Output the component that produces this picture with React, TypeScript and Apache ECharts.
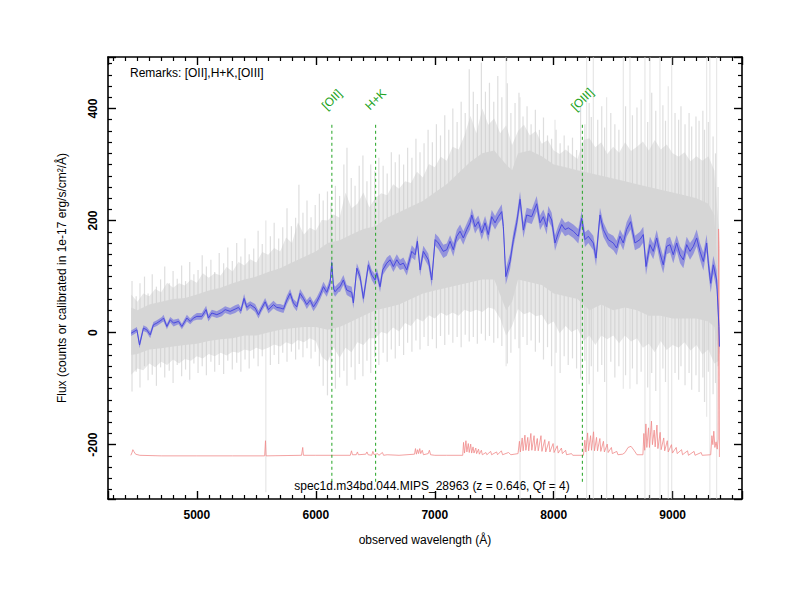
import React, { useEffect, useRef } from "react";
import * as echarts from "echarts";

const FONT = "'Liberation Sans', Helvetica, Arial, sans-serif";

const xMin = 4253;
const xMax = 9583;
const yMin = -297;
const yMax = 492;

const xAxisTitle = "observed wavelength (Å)";
const yAxisTitle = "Flux (counts or calibrated in 1e-17 erg/s/cm²/Å)";
const remarks = "Remarks: [OII],H+K,[OIII]";
const specTitle = "spec1d.m34bd.044.MIPS_28963 (z = 0.646, Qf = 4)";

// emission / absorption line markers
const lineNames = ["[OII]", "H+K", "[OIII]"];
const lineWaves = [6135, 6503, 8241];
const lineTop = 371;
const lineBottom = -269;
const lineLabelY = 416;

// smoothed spectrum: [wavelength, flux, error]
const blueSpectrum = [
  [4448, -1, 5], [4496, 5, 5], [4518, -22, 6], [4551, 8, 5], [4579, 5, 5], [4608, -4, 6], [4635, 14, 5],
  [4664, 17, 5], [4706, 23, 5], [4720, 26, 6], [4748, 11, 5], [4776, 23, 5], [4804, 17, 6], [4846, 20, 5],
  [4874, 11, 5], [4916, 26, 6], [4944, 20, 5], [4972, 26, 5], [5000, 29, 6], [5042, 29, 6], [5078, 41, 7],
  [5097, 26, 6], [5126, 35, 6], [5168, 32, 6], [5210, 36, 7], [5238, 41, 6], [5280, 38, 6], [5322, 42, 7],
  [5350, 45, 6], [5370, 39, 6], [5397, 61, 8], [5420, 45, 7], [5448, 50, 6], [5490, 44, 7], [5518, 32, 7],
  [5546, 44, 6], [5574, 55, 7], [5602, 41, 7], [5644, 50, 7], [5672, 45, 6], [5700, 44, 7], [5728, 42, 7],
  [5756, 58, 8], [5784, 70, 8], [5812, 53, 7], [5840, 46, 8], [5868, 70, 8], [5896, 61, 7], [5924, 50, 8],
  [5952, 58, 7], [5980, 46, 8], [6008, 55, 8], [6036, 67, 8], [6064, 82, 9], [6092, 72, 8], [6120, 88, 9],
  [6134, 125, 10], [6150, 78, 9], [6162, 73, 9], [6190, 80, 8], [6204, 82, 9], [6232, 94, 9], [6260, 76, 9],
  [6302, 72, 10], [6316, 53, 10], [6345, 115, 9], [6372, 100, 9], [6400, 61, 10], [6442, 121, 9],
  [6470, 103, 9], [6498, 94, 10], [6513, 106, 9], [6540, 82, 10], [6563, 112, 9], [6597, 124, 10],
  [6624, 130, 9], [6652, 118, 10], [6681, 130, 10], [6708, 121, 9], [6736, 124, 10], [6765, 112, 10],
  [6807, 145, 11], [6835, 139, 10], [6854, 163, 11], [6877, 112, 11], [6904, 145, 10], [6946, 130, 11],
  [6975, 94, 12], [7003, 166, 11], [7030, 160, 11], [7072, 145, 12], [7101, 148, 11], [7129, 163, 11],
  [7156, 148, 12], [7185, 172, 11], [7213, 181, 12], [7240, 169, 12], [7269, 184, 11], [7297, 196, 12],
  [7311, 210, 12], [7339, 189, 12], [7366, 198, 11], [7395, 178, 12], [7423, 196, 12], [7450, 175, 13],
  [7479, 207, 12], [7507, 196, 12], [7534, 207, 12], [7563, 216, 13], [7577, 189, 13], [7597, 100, 14],
  [7633, 127, 14], [7661, 166, 13], [7689, 196, 13], [7717, 238, 14], [7745, 183, 14], [7773, 210, 13],
  [7815, 207, 13], [7857, 230, 14], [7885, 196, 13], [7913, 207, 13], [7941, 189, 14], [7955, 213, 13],
  [7983, 201, 13], [8011, 160, 14], [8039, 178, 13], [8067, 193, 12], [8095, 184, 12], [8123, 187, 12],
  [8165, 181, 12], [8207, 172, 13], [8235, 204, 13], [8263, 166, 13], [8291, 172, 12], [8333, 160, 13],
  [8356, 133, 14], [8389, 210, 13], [8417, 184, 13], [8459, 166, 12], [8501, 160, 13], [8529, 151, 13],
  [8557, 172, 12], [8585, 160, 13], [8613, 184, 13], [8647, 198, 14], [8683, 160, 13], [8725, 166, 14],
  [8753, 175, 14], [8776, 118, 15], [8809, 157, 14], [8837, 145, 14], [8866, 169, 14], [8893, 142, 15],
  [8921, 121, 15], [8950, 154, 14], [8978, 157, 14], [9005, 139, 15], [9034, 160, 14], [9062, 139, 15],
  [9090, 130, 15], [9118, 157, 14], [9146, 145, 15], [9174, 154, 14], [9202, 169, 15], [9230, 145, 15],
  [9258, 127, 16], [9286, 160, 15], [9300, 124, 16], [9320, 88, 17], [9342, 121, 16], [9370, 94, 17],
  [9389, 11, 18], [9393, -25, 18],
];

// individual exposures: half-dense envelope [wavelength, low, high]
const greyMid = [
  [4448, -75, 68], [4500, -64, 55], [4550, -67, 70], [4600, -55, 65], [4650, -62, 78], [4700, -52, 72],
  [4750, -58, 89], [4800, -48, 80], [4850, -55, 88], [4900, -47, 84], [4950, -50, 95], [5000, -42, 89],
  [5050, -46, 106], [5100, -38, 98], [5150, -42, 106], [5200, -36, 102], [5250, -41, 117], [5300, -34, 109],
  [5350, -36, 126], [5400, -30, 120], [5450, -33, 131], [5500, -27, 125], [5550, -31, 144], [5600, -27, 139],
  [5650, -21, 151], [5700, -25, 145], [5750, -17, 170], [5800, -21, 160], [5850, -13, 197], [5900, -17, 175],
  [5950, -10, 187], [6000, -15, 182], [6050, -43, 201], [6100, -52, 200], [6150, -26, 211], [6200, -45, 205],
  [6250, -27, 250], [6300, -35, 222], [6350, -17, 230], [6400, -22, 250], [6450, -10, 224], [6500, -10, 240],
  [6550, 1, 249], [6600, -2, 245], [6650, 9, 265], [6700, 2, 257], [6750, 17, 270], [6800, 12, 267],
  [6850, 25, 287], [6900, 20, 277], [6950, 31, 301], [7000, 25, 295], [7050, 36, 314], [7100, 30, 307],
  [7150, 36, 332], [7200, 30, 327], [7250, 41, 352], [7300, 37, 387], [7350, 41, 356], [7400, 37, 400],
  [7450, 45, 371], [7500, 42, 382], [7550, 25, 356], [7600, -5, 370], [7650, 12, 335], [7700, 42, 360],
  [7750, 33, 371], [7800, 37, 352], [7850, 29, 360], [7900, 32, 337], [7950, 14, 344], [8000, 20, 325],
  [8050, -1, 319], [8100, 12, 327], [8150, 1, 318], [8200, 7, 310], [8250, -15, 344], [8300, -5, 347],
  [8350, -22, 331], [8400, -5, 340], [8450, -12, 319], [8500, -5, 332], [8550, -19, 321], [8600, -5, 340],
  [8650, -16, 324], [8700, -10, 332], [8750, -27, 341], [8800, -20, 325], [8850, -35, 344], [8900, -15, 327],
  [8950, -31, 336], [9000, -22, 320], [9050, -27, 314], [9100, -17, 322], [9150, -32, 306], [9200, -22, 315],
  [9250, -39, 307], [9300, -30, 315], [9350, -55, 290], [9390, -50, 180],
];

// individual exposures: dense core [wavelength, low, high]
const greyCore = [
  [4448, -40, 45], [4500, -38, 40], [4600, -30, 50], [4700, -28, 55], [4800, -25, 60], [4900, -22, 62],
  [5000, -20, 68], [5100, -15, 75], [5200, -12, 80], [5300, -10, 88], [5400, -5, 95], [5500, -5, 100],
  [5600, 0, 108], [5700, 5, 115], [5800, 8, 125], [5900, 10, 135], [6000, 10, 145], [6100, 5, 160],
  [6200, 10, 165], [6300, 20, 175], [6400, 30, 185], [6500, 40, 190], [6600, 45, 205], [6700, 50, 215],
  [6800, 60, 225], [6900, 70, 235], [7000, 75, 250], [7100, 80, 265], [7200, 85, 285], [7300, 90, 305],
  [7400, 95, 320], [7500, 95, 325], [7600, 40, 300], [7650, 55, 290], [7700, 95, 320], [7800, 90, 325],
  [7900, 85, 315], [8000, 70, 300], [8100, 65, 295], [8200, 60, 290], [8300, 40, 285], [8400, 50, 280],
  [8500, 40, 275], [8600, 45, 270], [8700, 40, 265], [8800, 30, 260], [8900, 30, 255], [9000, 25, 250],
  [9100, 25, 245], [9200, 25, 240], [9300, 20, 230], [9350, 10, 210], [9390, -40, 60],
];

// individual-exposure noise spikes [wavelength, low, high]
const greySpikes = [
  [4455, -105, 92], [4490, -70, 65], [4522, -98, 88], [4560, -60, 100], [4590, -85, 70], [4625, -75, 104],
  [4660, -95, 82], [4695, -62, 95], [4730, -80, 118], [4768, -68, 88], [4800, -90, 110], [4835, -58, 96],
  [4872, -78, 120], [4905, -66, 92], [4940, -84, 126], [4975, -55, 104], [5010, -72, 112], [5045, -60, 138],
  [5080, -76, 118], [5118, -52, 130], [5150, -70, 108], [5188, -58, 142], [5225, -74, 124], [5260, -50, 152],
  [5298, -66, 128], [5335, -54, 160], [5370, -70, 136], [5405, -48, 168], [5440, -64, 140], [5478, -46, 150],
  [5515, -60, 182], [5550, -42, 158], [5618, -58, 172], [5650, -40, 196], [5688, -56, 168], [5722, -36, 188],
  [5758, -52, 222], [5795, -34, 190], [5830, -48, 205], [5858, -30, 264], [5892, -44, 214], [5926, -28, 236],
  [5960, -46, 206], [5995, -34, 228], [6030, -60, 248], [6062, -95, 236], [6098, -112, 252], [6128, -70, 232],
  [6165, -100, 262], [6200, -80, 244], [6236, -68, 300], [6262, -95, 330], [6298, -62, 276], [6330, -84, 262],
  [6365, -56, 298], [6396, -78, 316], [6430, -50, 270], [6462, -72, 300], [6496, -44, 288], [6530, -58, 312],
  [6566, -36, 298], [6600, -52, 284], [6635, -30, 322], [6668, -46, 304], [6702, -24, 318], [6738, -40, 300],
  [6772, -18, 330], [6808, -34, 312], [6842, -14, 346], [6876, -30, 322], [6910, -8, 338], [6944, -24, 362],
  [6980, -12, 340], [7014, -28, 372], [7048, -6, 352], [7084, -22, 388], [7118, -4, 362], [7152, -18, 400],
  [7188, -8, 376], [7222, -26, 412], [7256, -4, 392], [7290, -16, 470], [7324, -8, 430], [7358, -20, 408],
  [7392, -2, 482], [7426, -14, 430], [7460, -6, 446], [7496, -18, 412], [7530, -10, 458], [7564, -24, 420],
  [7610, -55, 445], [7640, -36, 392], [7675, -12, 410], [7708, -28, 428], [7742, -8, 386], [7776, -22, 404],
  [7810, -14, 372], [7846, -34, 398], [7880, -18, 362], [7914, -48, 384], [7948, -26, 352], [7982, -60, 346],
  [8020, -36, 362], [8054, -72, 338], [8088, -42, 352], [8122, -58, 334], [8158, -46, 348], [8192, -64, 326],
  [8226, -82, 404], [8262, -50, 372], [8298, -92, 410], [8316, -60, 385], [8370, -70, 380], [8404, -58, 404],
  [8428, -88, 366], [8480, -52, 392], [8514, -80, 372], [8548, -60, 362], [8604, -76, 404], [8662, -64, 388],
  [8700, -92, 402], [8735, -70, 416], [8790, -98, 376], [8824, -72, 428], [8858, -104, 396], [8918, -64, 406],
  [8940, -88, 378], [9020, -72, 392], [9050, -84, 380], [9070, -60, 404], [9104, -94, 372], [9138, -72, 392],
  [9160, -102, 368], [9196, -76, 386], [9222, -106, 378], [9254, -80, 396], [9268, -124, 362], [9300, -70, 376],
  [9340, -110, 350], [9360, -90, 320], [9382, -60, 260],
];

// sky-line residual spikes [wavelength, low, high]
const skySpikes = [
  [5580, -285, 200], [7600, -60, 492], [7717, -297, 420], [8011, -297, 380], [8277, -297, 492],
  [8333, -297, 492], [8445, -297, 420], [8585, -100, 492], [8641, -100, 492], [8767, -297, 492],
  [8809, -297, 492], [8893, -297, 492], [8963, -297, 440], [8992, -297, 492], [9286, -150, 492],
  [9313, -297, 492], [9370, -297, 492],
];

// error / sky spectrum [wavelength, flux]
const redSpectrum = [
  [4445, -219], [4455, -214], [4462, -209], [4470, -212], [4485, -217], [4520, -219], [4700, -220], [5000, -220],
  [5300, -220], [5570, -220], [5577, -193], [5582, -220], [5880, -219], [5890, -205], [5896, -219], [6000, -219],
  [6290, -219], [6300, -211], [6308, -218], [6340, -218], [6350, -213], [6358, -218], [6420, -217], [6430, -213],
  [6440, -218], [6470, -219], [6480, -212], [6490, -218], [6520, -216], [6530, -219], [6560, -214], [6570, -219],
  [6600, -218], [6700, -219], [6830, -217], [6838, -207], [6846, -217], [6856, -209], [6864, -216], [6874, -207],
  [6882, -216], [6895, -210], [6905, -218], [6945, -216], [6955, -210], [6965, -218], [7000, -219], [7100, -219],
  [7235, -219], [7242, -196], [7250, -215], [7262, -193], [7270, -213], [7282, -198], [7290, -214], [7302, -199],
  [7310, -215], [7322, -204], [7330, -215], [7345, -206], [7352, -216], [7368, -208], [7375, -217], [7392, -210],
  [7400, -218], [7430, -214], [7438, -218], [7470, -212], [7478, -218], [7520, -213], [7528, -218], [7560, -211],
  [7570, -218], [7620, -214], [7640, -218], [7700, -216], [7712, -194], [7720, -213], [7735, -188], [7743, -211],
  [7758, -183], [7766, -210], [7782, -187], [7790, -211], [7808, -180], [7816, -210], [7835, -184], [7843, -211],
  [7862, -189], [7870, -211], [7893, -184], [7901, -212], [7925, -191], [7933, -213], [7960, -194], [7968, -213],
  [7995, -198], [8003, -214], [8030, -202], [8038, -215], [8065, -206], [8073, -216], [8100, -210], [8108, -218],
  [8150, -216], [8160, -219], [8250, -219], [8262, -192], [8270, -213], [8285, -179], [8293, -211], [8310, -184],
  [8318, -210], [8335, -177], [8343, -211], [8360, -187], [8368, -211], [8388, -189], [8396, -212], [8418, -194],
  [8426, -213], [8450, -199], [8458, -214], [8485, -205], [8493, -216], [8530, -212], [8540, -218], [8580, -217],
  [8600, -214], [8625, -205], [8650, -203], [8675, -210], [8700, -218], [8750, -218], [8758, -180], [8765, -210],
  [8775, -163], [8783, -205], [8797, -170], [8805, -205], [8822, -158], [8830, -200], [8845, -174], [8853, -204],
  [8868, -165], [8876, -207], [8895, -178], [8903, -209], [8925, -188], [8933, -211], [8955, -193], [8963, -213],
  [8990, -200], [8998, -215], [9030, -205], [9038, -216], [9075, -209], [9083, -218], [9125, -211], [9133, -219],
  [9180, -212], [9188, -219], [9240, -214], [9248, -219], [9320, -218], [9330, -184], [9338, -200], [9346, -176],
  [9355, -205], [9365, -195], [9375, -208], [9382, -190], [9386, 185], [9390, 150], [9393, -222],
];

const GREEN = "#22a322";

function bandSeries(rows: number[][], fill: string, z: number) {
  return {
    type: "custom",
    z,
    silent: true,
    clip: true,
    data: rows,
    encode: { x: 0, y: [1, 2] },
    renderItem: (params: any, api: any) => {
      if (params.dataIndex !== 0) return null;
      const pts: number[][] = [];
      for (let i = 0; i < rows.length; i++) pts.push(api.coord([rows[i][0], rows[i][2]]));
      for (let i = rows.length - 1; i >= 0; i--) pts.push(api.coord([rows[i][0], rows[i][1]]));
      return { type: "polygon", shape: { points: pts }, style: { fill } };
    },
  };
}

function spikeSeries(rows: number[][], stroke: string, width: number, z: number) {
  return {
    type: "custom",
    z,
    silent: true,
    clip: true,
    data: rows,
    encode: { x: 0, y: [1, 2] },
    renderItem: (params: any, api: any) => {
      const a = api.coord([api.value(0), api.value(1)]);
      const b = api.coord([api.value(0), api.value(2)]);
      return {
        type: "line",
        shape: { x1: a[0], y1: a[1], x2: b[0], y2: b[1] },
        style: { stroke, lineWidth: width },
      };
    },
  };
}

export default function App() {
  const ref = useRef<HTMLDivElement>(null);
  useEffect(() => {
    if (!ref.current) return;
    const chart = echarts.init(ref.current, null, { renderer: "svg" });

    const axisBase = {
      type: "value",
      axisLine: { show: true, onZero: false, lineStyle: { color: "#000", width: 1.6 } },
      axisTick: { show: true, inside: true, length: 8, lineStyle: { color: "#000", width: 1.4 } },
      minorTick: { show: true, splitNumber: 10, length: 4, lineStyle: { color: "#000", width: 1.2 } },
      splitLine: { show: false },
      minorSplitLine: { show: false },
    };
    const labelBase = {
      color: "#000",
      fontWeight: "bold",
      fontSize: 12,
      fontFamily: FONT,
      showMinLabel: false,
      showMaxLabel: false,
      formatter: (v: number) => String(v),
    };

    const blueBand = blueSpectrum.map((r) => [r[0], r[1] - r[2], r[1] + r[2]]);

    const option: any = {
      animation: false,
      backgroundColor: "#fff",
      grid: { left: 108, right: 58, top: 57, bottom: 101, containLabel: false },
      xAxis: [
        {
          ...axisBase,
          position: "bottom",
          min: xMin,
          max: xMax,
          axisLabel: { ...labelBase, margin: 10 },
          name: xAxisTitle,
          nameLocation: "middle",
          nameGap: 35,
          nameTextStyle: { color: "#000", fontSize: 12, fontFamily: FONT },
        },
        { ...axisBase, position: "top", min: xMin, max: xMax, axisLabel: { show: false } },
      ],
      yAxis: [
        {
          ...axisBase,
          position: "left",
          min: yMin,
          max: yMax,
          axisLabel: { ...labelBase, rotate: 90, margin: 9 },
          name: yAxisTitle,
          nameLocation: "middle",
          nameGap: 40,
          nameTextStyle: { color: "#000", fontSize: 12, fontFamily: FONT },
        },
        { ...axisBase, position: "right", min: yMin, max: yMax, axisLabel: { show: false } },
      ],
      series: [
        bandSeries(greyMid, "#e8e8e8", 1),
        spikeSeries(greySpikes, "rgba(200,200,200,0.6)", 1.2, 2),
        spikeSeries(skySpikes, "rgba(215,215,215,0.65)", 1.1, 2),
        bandSeries(greyCore, "#d6d6d6", 2),
        {
          type: "line",
          z: 3,
          silent: true,
          data: redSpectrum,
          showSymbol: false,
          lineStyle: { color: "#f08a8a", width: 0.8 },
        },
        bandSeries(blueBand, "rgba(95,95,225,0.55)", 4),
        {
          type: "line",
          z: 5,
          silent: true,
          data: blueSpectrum.map((r) => [r[0], r[1]]),
          showSymbol: false,
          lineStyle: { color: "#4a4ade", width: 1 },
        },
        {
          type: "custom",
          z: 6,
          silent: true,
          data: lineWaves.map((w) => [w, 0]),
          renderItem: (params: any, api: any) => {
            const w = api.value(0);
            const t = api.coord([w, lineTop]);
            const b = api.coord([w, lineBottom]);
            const l = api.coord([w, lineLabelY]);
            return {
              type: "group",
              children: [
                {
                  type: "line",
                  shape: { x1: t[0], y1: t[1], x2: b[0], y2: b[1] },
                  style: { stroke: GREEN, lineWidth: 1, lineDash: [3, 3] },
                },
                {
                  type: "text",
                  x: l[0],
                  y: l[1],
                  rotation: Math.PI / 4,
                  style: {
                    text: lineNames[params.dataIndex],
                    fill: GREEN,
                    font: `12px ${FONT}`,
                    align: "center",
                    verticalAlign: "middle",
                  },
                },
              ],
            };
          },
        },
      ],
      graphic: [
        {
          type: "text",
          x: 130,
          y: 73,
          style: { text: remarks, fill: "#000", font: `12px ${FONT}`, align: "left", verticalAlign: "middle" },
        },
        {
          type: "text",
          x: 432,
          y: 486,
          style: { text: specTitle, fill: "#000", font: `12px ${FONT}`, align: "center", verticalAlign: "middle" },
        },
      ],
    };
    chart.setOption(option);
    return () => chart.dispose();
  }, []);
  return <div ref={ref} style={{ position: "absolute", left: 0, top: 0, width: 800, height: 600 }} />;
}
